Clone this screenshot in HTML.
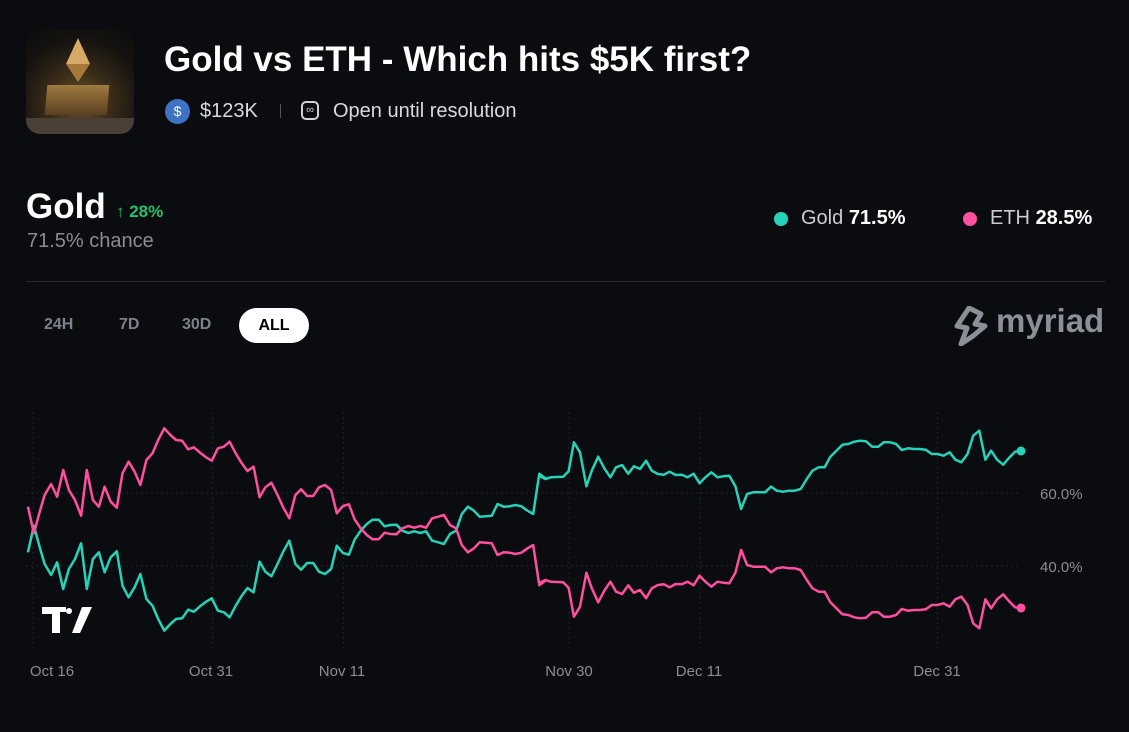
<!DOCTYPE html>
<html><head><meta charset="utf-8"><style>
html,body{margin:0;padding:0;background:#0b0c10;width:1129px;height:732px;overflow:hidden;font-family:"Liberation Sans",sans-serif;color:#fff;}
.abs{position:absolute;}
</style></head><body>
<div class="abs" style="left:26px;top:30px;width:108px;height:104px;border-radius:14px;background:radial-gradient(circle at 50% 70%,#6b5230 0%,#3a2c18 35%,#151210 70%,#0e0d0c 100%);overflow:hidden">
 <div class="abs" style="left:20px;top:55px;width:62px;height:30px;background:linear-gradient(#a07a40,#5a4020);transform:skewX(-5deg)"></div>
 <div class="abs" style="left:40px;top:8px;width:0;height:0;border-left:12px solid transparent;border-right:12px solid transparent;border-bottom:26px solid #d6aa66"></div>
 <div class="abs" style="left:40px;top:34px;width:0;height:0;border-left:12px solid transparent;border-right:12px solid transparent;border-top:18px solid #a5783c"></div>
 <div class="abs" style="left:0;top:88px;width:108px;height:16px;background:#4a4038"></div>
</div>
<div class="abs" style="left:164px;top:40px;font-size:35px;font-weight:bold;white-space:nowrap;letter-spacing:0px">Gold vs ETH - Which hits $5K first?</div>
<div class="abs" style="left:165px;top:99px;width:25px;height:25px;border-radius:50%;background:#3e73c4;color:#fff;font-size:14px;text-align:center;line-height:25px">$</div>
<div class="abs" style="left:200px;top:100px;font-size:20px;color:#d8dae0">$123K</div>
<div class="abs" style="left:280px;top:104px;width:1px;height:14px;background:#555"></div>
<div class="abs" style="left:301px;top:101px;width:18px;height:19px;border:2px solid #cfd2d8;border-radius:5px;box-sizing:border-box;font-size:11px;text-align:center;line-height:14px;color:#cfd2d8">∞</div>
<div class="abs" style="left:333px;top:100px;font-size:20px;color:#d8dae0">Open until resolution</div>

<div class="abs" style="left:26px;top:187px;font-size:35px;font-weight:bold">Gold</div>
<div class="abs" style="left:116px;top:202px;font-size:17px;color:#22c26a;font-weight:bold">↑ 28%</div>
<div class="abs" style="left:27px;top:230px;font-size:20px;color:#8a8d96">71.5% chance</div>

<div class="abs" style="left:774px;top:212px;width:14px;height:14px;border-radius:50%;background:#27d3b8"></div>
<div class="abs" style="left:801px;top:207px;font-size:20px;color:#c9ccd2">Gold <b style="color:#fff">71.5%</b></div>
<div class="abs" style="left:963px;top:212px;width:14px;height:14px;border-radius:50%;background:#ff4fa0"></div>
<div class="abs" style="left:990px;top:207px;font-size:20px;color:#c9ccd2">ETH <b style="color:#fff">28.5%</b></div>

<div class="abs" style="left:26px;top:281px;width:1079px;height:1px;background:#2b2d33"></div>

<div class="abs" style="left:44px;top:316px;font-size:16px;color:#7d818b;font-weight:bold">24H</div>
<div class="abs" style="left:119px;top:316px;font-size:16px;color:#7d818b;font-weight:bold">7D</div>
<div class="abs" style="left:182px;top:316px;font-size:16px;color:#7d818b;font-weight:bold">30D</div>
<div class="abs" style="left:239px;top:308px;width:70px;height:35px;border-radius:18px;background:#fff;color:#000;font-size:16px;font-weight:bold;text-align:center;line-height:35px">ALL</div>

<svg class="abs" style="left:953px;top:306px" width="36" height="40" viewBox="0 0 36 40"><path d="M16 2 L4 20 L14 22 L8 38 L20 30 L32 20 L22 18 L28 8 Z" fill="none" stroke="#8b8f98" stroke-width="5" stroke-linejoin="round"/></svg>
<div class="abs" style="left:996px;top:302px;font-size:33px;color:#8b8f98;font-weight:bold;letter-spacing:0px">myriad</div>

<svg class="abs" style="left:0;top:0" width="1129" height="732" id="ch">
 <g stroke="#22242a" stroke-dasharray="2,3" stroke-width="1">
  <line x1="26" y1="493" x2="1020" y2="493"/><line x1="26" y1="566" x2="1020" y2="566"/>
  <line x1="33" y1="412" x2="33" y2="648"/><line x1="212.5" y1="412" x2="212.5" y2="648"/>
  <line x1="343.6" y1="412" x2="343.6" y2="648"/><line x1="569" y1="412" x2="569" y2="648"/>
  <line x1="700" y1="412" x2="700" y2="648"/><line x1="937.5" y1="412" x2="937.5" y2="648"/>
 </g>
 <g font-family="Liberation Sans, sans-serif" font-size="15" fill="#8a8d96">
  <text x="1040" y="499">60.0%</text><text x="1040" y="572">40.0%</text>
  <text x="52" y="676" text-anchor="middle">Oct 16</text>
  <text x="211" y="676" text-anchor="middle">Oct 31</text>
  <text x="342" y="676" text-anchor="middle">Nov 11</text>
  <text x="569" y="676" text-anchor="middle">Nov 30</text>
  <text x="699" y="676" text-anchor="middle">Dec 11</text>
  <text x="937" y="676" text-anchor="middle">Dec 31</text>
 </g>
 <g fill="#fff"><path d="M42 607 H66 V612 H60 V633 H52 V614 H42 Z"/><path d="M72 633 L82 607 H92 L80 633 Z"/><circle cx="69" cy="611" r="3"/></g>
 <polyline id="pt" fill="none" stroke="#27d3b8" stroke-width="2.5" stroke-linejoin="round"/>
 <polyline id="pp" fill="none" stroke="#ff4fa0" stroke-width="2.5" stroke-linejoin="round"/>
 <circle cx="1021" cy="451" r="4.5" fill="#27d3b8"/>
 <circle cx="1021" cy="608" r="4.5" fill="#ff4fa0"/>
</svg>
<script>
var a=[78,320,95,400,110,340,125,285,143,252,160,290,177,210,193,270,210,300,227,347,243,210,260,300,277,320,293,260,310,305,327,323,343,220,360,185,377,215,393,255,410,180,427,160,443,120,460,85,477,105,493,120,510,122,527,148,543,142,560,158,577,172,593,182,610,145,627,140,643,125,660,160,677,190,693,213,710,200,727,292,743,262,760,248,777,285,793,322,810,355,827,285,843,268,860,288,877,288,893,262,910,255,927,270,943,340,960,318,977,313,993,358,1010,385,1027,405,1043,418,1060,418,1077,398,1093,402,1110,403,1127,385,1143,378,1160,383,1177,378,1193,383,1210,355,1227,350,1243,345,1260,375,1277,385,1293,435,1310,457,1327,445,1343,427,1360,428,1377,430,1393,465,1410,457,1427,458,1443,462,1460,458,1477,445,1493,435,1510,556,1527,542];
var b=[0,548,15,540,30,545,65,547,80,563,95,650,112,620,130,518,145,565,163,607,180,572,197,545,213,575,230,582,247,556,263,578,280,570,297,595,313,565,330,555,347,553,363,562,380,552,397,553,413,545,430,556,447,527,463,545,480,560,497,545,513,548,530,550,547,518,563,450,580,495,597,500,613,500,630,500,647,517,663,505,680,502,697,505,713,505,730,510,747,540,763,565,780,575,797,575,813,607,830,625,847,643,863,645,880,652,897,655,913,653,930,637,947,637,963,650,980,650,997,645,1013,627,1030,632,1047,630,1063,630,1080,628,1097,615,1113,615,1130,610,1147,620,1163,598,1180,590,1197,615,1213,670,1230,685,1247,598,1263,625,1280,598,1297,583,1313,603,1330,622,1347,625];
var P=[],T=[];
function add(arr,ox){for(var i=0;i<arr.length;i+=2){var x=ox+arr[i]/2.8,y=400+arr[i+1]/3;P.push(x.toFixed(1)+','+y.toFixed(1));T.push(x.toFixed(1)+','+(1059-y).toFixed(1));}}
add(a,0);add(b,540);
document.getElementById('pp').setAttribute('points',P.join(' '));
document.getElementById('pt').setAttribute('points',T.join(' '));
</script>
</body></html>
